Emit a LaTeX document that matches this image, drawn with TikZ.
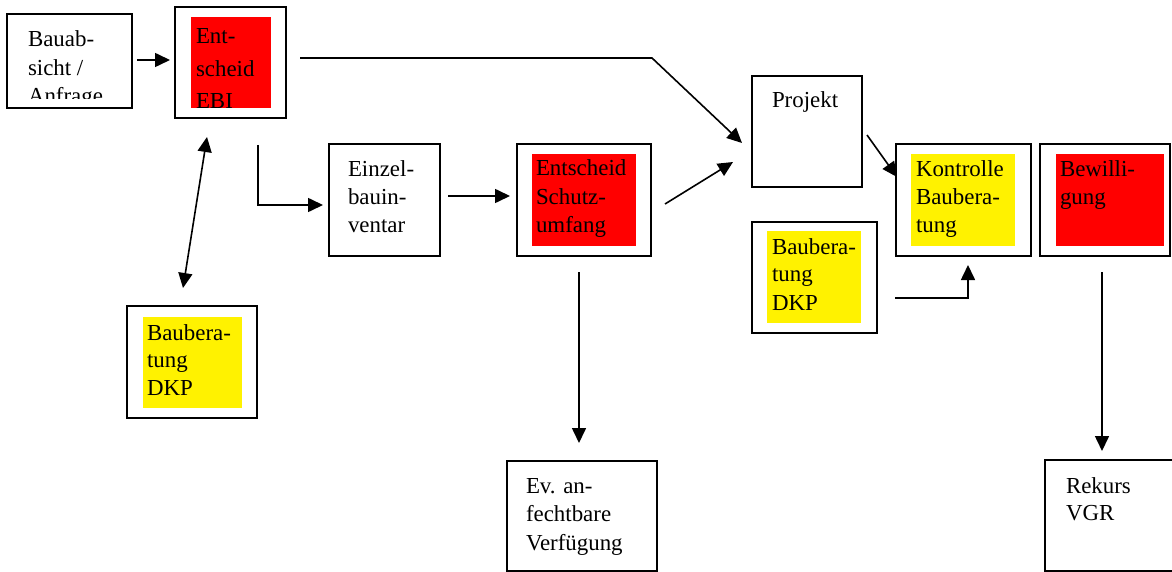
\documentclass[tikz,border=0pt]{standalone}
\usepackage{fontspec}
\setmainfont{Liberation Serif}
\usetikzlibrary{arrows.meta,calc}
\begin{document}
\begin{tikzpicture}[x=1pt,y=-1pt,
  box/.style={draw=black, line width=1.7pt, anchor=north west, inner sep=0pt, outer sep=0pt},
  redfill/.style={fill=red, draw=none, anchor=north west, inner sep=0pt, outer sep=0pt},
  yelfill/.style={fill=yellow, draw=none, anchor=north west, inner sep=0pt, outer sep=0pt},
  txt/.style={anchor=base west, inner sep=0pt, outer sep=0pt, font=\fontsize{22.9}{28}\selectfont},
  tip/.style={},
  arr/.style={line width=1.6pt, -{Triangle[length=15pt,width=14pt]}},
  dblarr/.style={line width=1.6pt, {Triangle[length=15pt,width=14pt]}-{Triangle[length=15pt,width=14pt]}}]
\useasboundingbox (0,0) rectangle (1172,572);
\fill[white] (0,0) rectangle (1172,572);

% boxes
\node[box, minimum width=125pt, minimum height=94pt] (A) at (7,14) {};
\node[box, minimum width=111pt, minimum height=111pt] (B) at (175,7) {};
\node[redfill, minimum width=80pt, minimum height=91pt] (Bf) at (191,17) {};
\node[box, minimum width=111pt, minimum height=112pt] (E) at (329,144) {};
\node[box, minimum width=134pt, minimum height=112pt] (S) at (517,144) {};
\node[redfill, minimum width=104pt, minimum height=92pt] (Sf) at (532,154) {};
\node[box, minimum width=110pt, minimum height=111pt] (P) at (752,76) {};
\node[box, minimum width=125pt, minimum height=111pt] (D2) at (752,222) {};
\node[yelfill, minimum width=94pt, minimum height=92pt] (D2f) at (767,231) {};
\node[box, minimum width=135pt, minimum height=112pt] (K) at (896,144) {};
\node[yelfill, minimum width=104pt, minimum height=92pt] (Kf) at (911,154) {};
\node[box, minimum width=130pt, minimum height=112pt] (W) at (1040,144) {};
\node[redfill, minimum width=108pt, minimum height=92pt] (Wf) at (1056,154) {};
\node[box, minimum width=130pt, minimum height=112pt] (D1) at (127,306) {};
\node[yelfill, minimum width=99pt, minimum height=91pt] (D1f) at (143,317) {};
\node[box, minimum width=150pt, minimum height=110pt] (V) at (507,461) {};
\node[box, minimum width=140pt, minimum height=111pt] (R) at (1045,460) {};

% texts
\begin{scope}
  \clip (A.north west) rectangle ($(A.south east)+(0,-9)$);
  \node[txt] (At) at (28,47) {\vtop{\baselineskip=28.5pt\hbox{Bauab-}\hbox{sicht /}\hbox{Anfrage}}};
\end{scope}
\begin{scope}
  \clip (Bf.north west) rectangle (Bf.south east);
  \node[txt] (Bt) at (196,44) {\vtop{\baselineskip=32.5pt\hbox{Ent-}\hbox{scheid}\hbox{EBI}}};
\end{scope}
\node[txt] (Et) at (348,177) {\vtop{\baselineskip=28pt\hbox{Einzel-}\hbox{bauin-}\hbox{ventar}}};
\node[txt] (St) at (536,176) {\vtop{\baselineskip=28.5pt\hbox{Entscheid}\hbox{Schutz-}\hbox{umfang}}};
\node[txt] (Pt) at (772,108) {Projekt};
\node[txt] (D2t) at (772,254) {\vtop{\baselineskip=28pt\hbox{Baubera-}\hbox{tung}\hbox{DKP}}};
\node[txt] (Kt) at (916,177) {\vtop{\baselineskip=28pt\hbox{Kontrolle}\hbox{Baubera-}\hbox{tung}}};
\node[txt] (Wt) at (1060,177) {\vtop{\baselineskip=28pt\hbox{Bewilli-}\hbox{gung}}};
\node[txt] (D1t) at (147,340) {\vtop{\baselineskip=27.5pt\hbox{Baubera-}\hbox{tung}\hbox{DKP}}};
\node[txt] (Vt) at (526,493) {\vtop{\baselineskip=28.5pt\hbox{Ev. an-}\hbox{fechtbare}\hbox{Verfügung}}};
\node[txt] (Rt) at (1066,493) {\vtop{\baselineskip=27pt\hbox{Rekurs}\hbox{VGR}}};

% connectors
\draw[arr] ($(A.north east)+(5,46)$) -- ($(B.north west)+(-5,53)$);
\draw[arr] ($(B.north east)+(14,51)$) -- ++(352,0) -- ($(P.west)+(-10,11.5)$);
\draw[arr] ($(B.south)+(27.5,27)$) |- ($(E.west)+(-6,5)$);
\draw[arr] ($(E.east)+(8,-4)$) -- ($(S.west)+(-7,-4)$);
\draw[arr] ($(S.north east)+(14,60)$) -- ($(P.south west)+(-19,-25)$);
\draw[arr] ($(P.east)+(5,3.5)$) -- ($(K.north west)+(1,33)$);
\draw[arr] ($(D2.east)+(18,20.5)$) -| ($(K.south)+(4.5,9)$);
\draw[arr] ($(S.south)+(-5,16)$) -- ($(V.north)+(-3,-18)$);
\draw[arr] ($(W.south)+(-3,16)$) -- ($(W.south |- R.north)+(-3,-9)$);
\draw[dblarr] ($(B.south west)+(32,19)$) -- ($(D1.north west)+(56,-18)$);
\end{tikzpicture}
\end{document}
